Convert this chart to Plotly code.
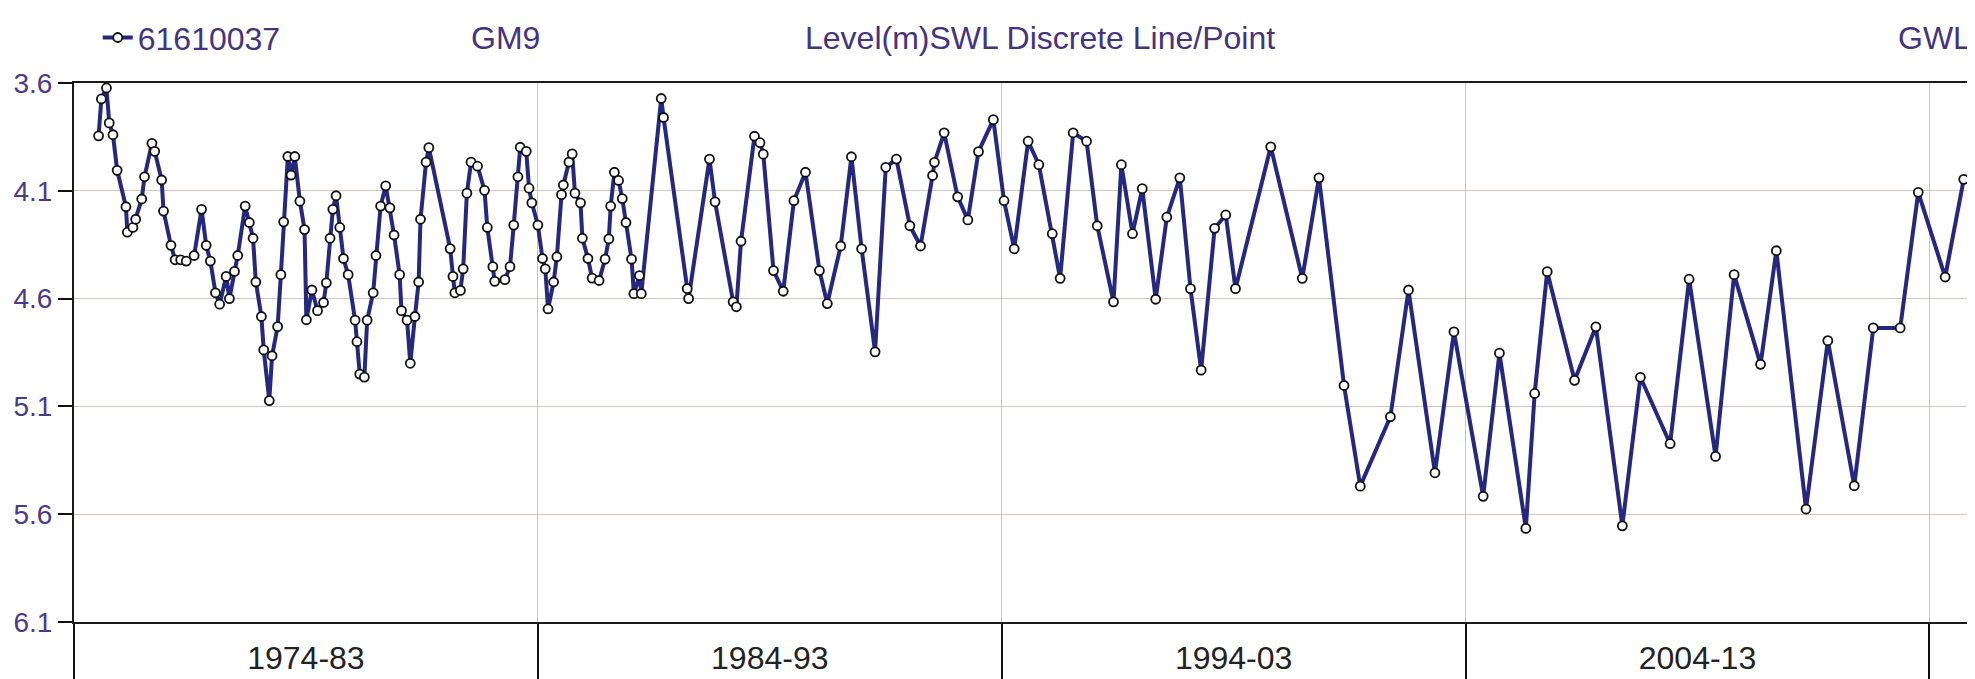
import plotly.graph_objects as go

# ---------------- data ----------------
years = [
    1974.53, 1974.59, 1974.70, 1974.76, 1974.84, 1974.93, 1975.12, 1975.15, 1975.27, 1975.33,
    1975.46, 1975.52, 1975.68, 1975.74, 1975.89, 1975.93, 1976.09, 1976.18, 1976.30, 1976.42,
    1976.59, 1976.75, 1976.85, 1976.94, 1977.05, 1977.14, 1977.28, 1977.35, 1977.46, 1977.53,
    1977.69, 1977.78, 1977.86, 1977.92, 1978.04, 1978.09, 1978.21, 1978.27, 1978.39, 1978.46,
    1978.52, 1978.61, 1978.68, 1978.76, 1978.87, 1978.97, 1979.01, 1979.13, 1979.25, 1979.38,
    1979.44, 1979.52, 1979.58, 1979.65, 1979.73, 1979.81, 1979.91, 1980.06, 1980.10, 1980.16,
    1980.26, 1980.32, 1980.45, 1980.51, 1980.61, 1980.72, 1980.81, 1980.90, 1981.02, 1981.06,
    1981.18, 1981.25, 1981.35, 1981.43, 1981.47, 1981.59, 1981.65, 1982.11, 1982.17, 1982.21,
    1982.33, 1982.39, 1982.47, 1982.56, 1982.70, 1982.85, 1982.91, 1983.03, 1983.07, 1983.29,
    1983.40, 1983.48, 1983.57, 1983.62, 1983.75, 1983.81, 1983.87, 1984.00, 1984.10, 1984.16,
    1984.22, 1984.34, 1984.41, 1984.51, 1984.55, 1984.67, 1984.74, 1984.80, 1984.92, 1984.96,
    1985.08, 1985.17,
    1985.32, 1985.45, 1985.53, 1985.57, 1985.65, 1985.74, 1985.82, 1985.90, 1986.02, 1986.07,
    1986.19, 1986.23, 1986.66, 1986.71, 1987.22, 1987.25, 1987.70, 1987.82, 1988.21, 1988.28,
    1988.38, 1988.67, 1988.79, 1988.86, 1989.08, 1989.29, 1989.52, 1989.77, 1990.07, 1990.24,
    1990.53, 1990.76, 1990.98, 1991.27, 1991.50, 1991.73, 1992.02, 1992.25, 1992.51, 1992.55,
    1992.76, 1993.05, 1993.27, 1993.50, 1993.82,
    1994.05, 1994.27, 1994.57, 1994.80, 1995.09, 1995.26, 1995.54, 1995.83, 1996.06, 1996.41,
    1996.58, 1996.82, 1997.03, 1997.32, 1997.56, 1997.84, 1998.07, 1998.30, 1998.59, 1998.83,
    1999.04, 1999.80, 2000.48, 2000.84, 2001.38, 2001.73, 2002.38,
    2002.77, 2003.34, 2003.75, 2004.38, 2004.73, 2005.30, 2005.49, 2005.76, 2006.35, 2006.81,
    2007.38, 2007.77, 2008.41, 2008.82, 2009.39, 2009.79, 2010.36, 2010.70, 2011.34, 2011.81,
    2012.38, 2012.79, 2013.37, 2013.76, 2014.34, 2014.74,
]

levels = [
    3.845, 3.674, 3.623, 3.785, 3.840, 4.005, 4.174, 4.292, 4.270, 4.232,
    4.138, 4.035, 3.880, 3.917, 4.050, 4.194, 4.353, 4.420, 4.420, 4.426,
    4.400, 4.186, 4.353, 4.426, 4.573, 4.626, 4.497, 4.600, 4.474, 4.400,
    4.171, 4.247, 4.320, 4.523, 4.683, 4.838, 5.073, 4.865, 4.730, 4.489,
    4.244, 3.941, 4.027, 3.941, 4.148, 4.280, 4.698, 4.560, 4.656, 4.618,
    4.527, 4.320, 4.186, 4.123, 4.270, 4.414, 4.489, 4.700, 4.800, 4.950,
    4.964, 4.700, 4.573, 4.400, 4.171, 4.077, 4.179, 4.305, 4.489, 4.656,
    4.700, 4.900, 4.683, 4.523, 4.232, 3.967, 3.900, 4.368, 4.497, 4.573,
    4.562, 4.462, 4.111, 3.967, 3.986, 4.098, 4.270, 4.452, 4.520, 4.512,
    4.452, 4.259, 4.035, 3.898, 3.917, 4.088, 4.156, 4.259, 4.414, 4.462,
    4.648, 4.523, 4.406, 4.118, 4.073, 3.967, 3.929, 4.111, 4.156, 4.320,
    4.414, 4.505,
    4.516, 4.417, 4.323, 4.171, 4.014, 4.052, 4.136, 4.247, 4.417, 4.577,
    4.493, 4.577, 3.672, 3.760, 4.554, 4.600, 3.953, 4.151, 4.615, 4.638,
    4.334, 3.847, 3.877, 3.930, 4.470, 4.566, 4.146, 4.014, 4.470, 4.623,
    4.356, 3.942, 4.369, 4.847, 3.991, 3.953, 4.262, 4.356, 4.029, 3.968,
    3.831, 4.128, 4.235, 3.918, 3.770,
    4.146, 4.369, 3.870, 3.979, 4.299, 4.506, 3.831, 3.870, 4.262, 4.615,
    3.979, 4.299, 4.090, 4.603, 4.222, 4.040, 4.554, 4.932, 4.274, 4.212,
    4.554, 3.896, 4.506, 4.040, 5.003, 5.470, 5.148,
    4.560, 5.408, 4.754, 5.517, 4.853, 5.666, 5.040, 4.475, 4.979, 4.731,
    5.654, 4.965, 5.273, 4.510, 5.332, 4.489, 4.905, 4.378, 5.576, 4.795,
    5.468, 4.736, 4.736, 4.107, 4.500, 4.047,
]

decade_ticks = [1974, 1984, 1994, 2004, 2014]
decade_mids = [1979, 1989, 1999, 2009]
decade_labels = ["1974-83", "1984-93", "1994-03", "2004-13"]
y_ticks = [3.6, 4.1, 4.6, 5.1, 5.6, 6.1]

series_name = "61610037"
header_texts = ["GM9", "Level(m)SWL Discrete Line/Point", "GWL"]

# ---------------- styling ----------------
FONT = "Liberation Sans, Arial, sans-serif"
PURPLE = "#44347f"
X_RANGE = [1974.0, 2014.94]
HEADER_Y = 1.084

fig = go.Figure()

fig.add_trace(go.Scatter(
    x=years, y=levels, name=series_name, mode="lines+markers",
    line=dict(color="#24287f", width=4),
    marker=dict(symbol="circle", size=9, color="white",
                line=dict(color="#111111", width=1.8)),
))

# helper trace for the secondary (label) axis
fig.add_trace(go.Scatter(
    x=decade_mids, y=[None] * len(decade_mids), xaxis="x2", mode="markers",
    showlegend=False, hoverinfo="skip",
))

# the page body adds an 8 px margin: the figure is sized/offset to compensate
fig.update_layout(
    template="none",
    width=1967, height=671,
    margin=dict(l=66, r=2, t=67, b=57, pad=0),
    paper_bgcolor="white", plot_bgcolor="white",
    font=dict(family=FONT, color=PURPLE),
    showlegend=True,
    legend=dict(x=0.0125, xanchor="left", y=HEADER_Y, yanchor="middle",
                bgcolor="rgba(0,0,0,0)", borderwidth=0,
                font=dict(family=FONT, size=32, color=PURPLE),
                itemwidth=30),
    xaxis=dict(
        range=X_RANGE, tickvals=decade_ticks, ticktext=[""] * len(decade_ticks),
        ticks="outside", ticklen=57, tickwidth=2, tickcolor="#111111",
        showgrid=True, gridcolor="#cdc3c3", gridwidth=1,
        showline=True, linecolor="#1a1a1a", linewidth=2, mirror=True,
        zeroline=False, automargin=False, fixedrange=True,
    ),
    xaxis2=dict(
        range=X_RANGE, overlaying="x", side="bottom", anchor="y",
        tickvals=decade_mids, ticktext=decade_labels,
        ticks="outside", ticklen=8, tickcolor="rgba(0,0,0,0)",
        tickfont=dict(family=FONT, size=32, color="#222222"),
        showgrid=False, showline=False, zeroline=False, automargin=False,
    ),
    yaxis=dict(
        range=[6.1, 3.6], tickvals=y_ticks, tickformat=".1f",
        ticks="outside", ticklen=14, tickwidth=1.5, tickcolor="#111111",
        tickfont=dict(family=FONT, size=28, color="#4a3a8c"),
        showgrid=True, gridcolor="#d8c6bd", gridwidth=1,
        showline=True, linecolor="#1a1a1a", linewidth=2, mirror=True,
        zeroline=False, automargin=False, fixedrange=True,
    ),
)

header_x = [0.227, 0.5087, 1.0]
header_anchor = ["center", "center", "right"]
for txt, hx, anc in zip(header_texts, header_x, header_anchor):
    fig.add_annotation(text=txt, xref="paper", yref="paper", x=hx, y=HEADER_Y,
                       xanchor=anc, yanchor="middle", showarrow=False,
                       font=dict(family=FONT, size=32, color=PURPLE))

fig.write_html("out.html")
